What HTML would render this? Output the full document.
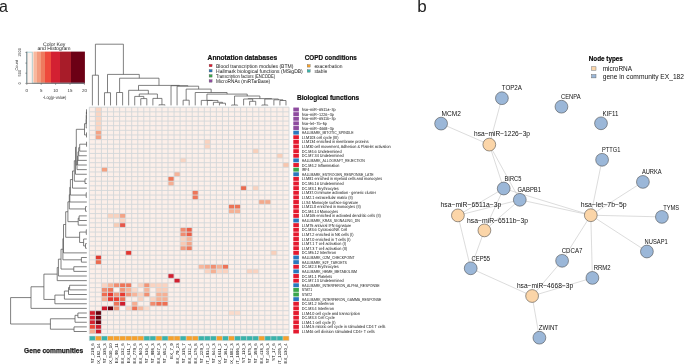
<!DOCTYPE html><html><head><meta charset="utf-8"><style>html,body{margin:0;padding:0;background:#fff;overflow:hidden}svg{display:block;will-change:transform}text{font-family:"Liberation Sans",sans-serif}.gp{text-rendering:geometricPrecision}</style></head><body>
<svg width="685" height="364" viewBox="0 0 685 364">
<rect width="685" height="364" fill="#fff"/>
<text x="-0.9" y="11.8" font-size="16" fill="#222">a</text>
<text x="417.2" y="11.8" font-size="17" fill="#222">b</text>
<rect x="89.35" y="107.2" width="199.65" height="226.625" fill="#fcefe9"/>
<rect x="95.40" y="107.20" width="6.05" height="4.625" fill="#fbd5c2"/>
<rect x="95.40" y="111.83" width="6.05" height="4.625" fill="#fbd5c2"/>
<rect x="95.40" y="116.45" width="6.05" height="4.625" fill="#fbd5c2"/>
<rect x="95.40" y="121.08" width="6.05" height="4.625" fill="#fbd5c2"/>
<rect x="95.40" y="125.70" width="6.05" height="4.625" fill="#fbd5c2"/>
<rect x="95.40" y="130.32" width="6.05" height="4.625" fill="#f4a385"/>
<rect x="95.40" y="134.95" width="6.05" height="4.625" fill="#f4a385"/>
<rect x="204.30" y="139.57" width="6.05" height="4.625" fill="#fad3c0"/>
<rect x="204.30" y="144.20" width="6.05" height="4.625" fill="#fad3c0"/>
<rect x="180.10" y="158.07" width="6.05" height="4.625" fill="#f9d5c3"/>
<rect x="252.70" y="148.82" width="6.05" height="4.625" fill="#f9d0bb"/>
<rect x="276.90" y="153.45" width="6.05" height="4.625" fill="#f9d0bb"/>
<rect x="282.95" y="162.70" width="6.05" height="4.625" fill="#f8c6ae"/>
<rect x="101.45" y="167.32" width="6.05" height="4.625" fill="#f4a080"/>
<rect x="174.05" y="171.95" width="6.05" height="4.625" fill="#f6b49a"/>
<rect x="168.00" y="176.57" width="6.05" height="4.625" fill="#ee7556"/>
<rect x="168.00" y="181.20" width="6.05" height="4.625" fill="#f5ad92"/>
<rect x="240.60" y="185.82" width="6.05" height="4.625" fill="#ea6a4e"/>
<rect x="252.70" y="185.82" width="6.05" height="4.625" fill="#f9d3c0"/>
<rect x="192.20" y="190.45" width="6.05" height="4.625" fill="#ed7659"/>
<rect x="192.20" y="195.07" width="6.05" height="4.625" fill="#ed7659"/>
<rect x="258.75" y="199.70" width="6.05" height="4.625" fill="#f4a98c"/>
<rect x="264.80" y="199.70" width="6.05" height="4.625" fill="#f4a98c"/>
<rect x="228.50" y="204.32" width="6.05" height="4.625" fill="#ec7356"/>
<rect x="234.55" y="204.32" width="6.05" height="4.625" fill="#ec7356"/>
<rect x="228.50" y="208.95" width="6.05" height="4.625" fill="#f5b296"/>
<rect x="234.55" y="208.95" width="6.05" height="4.625" fill="#f5b296"/>
<rect x="107.50" y="213.57" width="6.05" height="4.625" fill="#f9d3c0"/>
<rect x="113.55" y="213.57" width="6.05" height="4.625" fill="#f9d3c0"/>
<rect x="119.60" y="213.57" width="6.05" height="4.625" fill="#f4a385"/>
<rect x="119.60" y="218.20" width="6.05" height="4.625" fill="#fad4c2"/>
<rect x="113.55" y="222.82" width="6.05" height="4.625" fill="#f8ccb5"/>
<rect x="119.60" y="222.82" width="6.05" height="4.625" fill="#e7574a"/>
<rect x="180.10" y="227.45" width="6.05" height="4.625" fill="#f08b70"/>
<rect x="186.15" y="227.45" width="6.05" height="4.625" fill="#ec5f47"/>
<rect x="180.10" y="232.07" width="6.05" height="4.625" fill="#f08b70"/>
<rect x="186.15" y="232.07" width="6.05" height="4.625" fill="#eb5d45"/>
<rect x="180.10" y="236.70" width="6.05" height="4.625" fill="#fad3c0"/>
<rect x="186.15" y="236.70" width="6.05" height="4.625" fill="#f6b69c"/>
<rect x="180.10" y="241.32" width="6.05" height="4.625" fill="#f8c9b4"/>
<rect x="186.15" y="241.32" width="6.05" height="4.625" fill="#f4a588"/>
<rect x="180.10" y="245.95" width="6.05" height="4.625" fill="#f29c80"/>
<rect x="186.15" y="245.95" width="6.05" height="4.625" fill="#ee7a5e"/>
<rect x="125.65" y="250.57" width="6.05" height="4.625" fill="#e3352f"/>
<rect x="270.85" y="250.57" width="6.05" height="4.625" fill="#f9d0bb"/>
<rect x="95.40" y="255.20" width="6.05" height="4.625" fill="#e23a30"/>
<rect x="95.40" y="259.82" width="6.05" height="4.625" fill="#ec6c50"/>
<rect x="198.25" y="264.45" width="6.05" height="4.625" fill="#f7b89e"/>
<rect x="204.30" y="264.45" width="6.05" height="4.625" fill="#f5a98d"/>
<rect x="210.35" y="264.45" width="6.05" height="4.625" fill="#f18e70"/>
<rect x="216.40" y="264.45" width="6.05" height="4.625" fill="#f6b195"/>
<rect x="222.45" y="264.45" width="6.05" height="4.625" fill="#ee7357"/>
<rect x="204.30" y="269.07" width="6.05" height="4.625" fill="#fbd4c2"/>
<rect x="210.35" y="269.07" width="6.05" height="4.625" fill="#f6b092"/>
<rect x="216.40" y="269.07" width="6.05" height="4.625" fill="#fbd6c5"/>
<rect x="222.45" y="269.07" width="6.05" height="4.625" fill="#fbd3c0"/>
<rect x="246.65" y="269.07" width="6.05" height="4.625" fill="#fbd3c0"/>
<rect x="252.70" y="269.07" width="6.05" height="4.625" fill="#fbd3c0"/>
<rect x="168.00" y="273.70" width="6.05" height="4.625" fill="#d2202f"/>
<rect x="174.05" y="278.32" width="6.05" height="4.625" fill="#d2202f"/>
<rect x="101.45" y="282.95" width="6.05" height="4.625" fill="#fbd3c0"/>
<rect x="107.50" y="282.95" width="6.05" height="4.625" fill="#f7b59a"/>
<rect x="113.55" y="282.95" width="6.05" height="4.625" fill="#f18d70"/>
<rect x="119.60" y="282.95" width="6.05" height="4.625" fill="#ee7357"/>
<rect x="125.65" y="282.95" width="6.05" height="4.625" fill="#ef785b"/>
<rect x="137.75" y="282.95" width="6.05" height="4.625" fill="#fbd4c2"/>
<rect x="143.80" y="282.95" width="6.05" height="4.625" fill="#f29577"/>
<rect x="149.85" y="282.95" width="6.05" height="4.625" fill="#fbd3c0"/>
<rect x="155.90" y="282.95" width="6.05" height="4.625" fill="#fbd3c0"/>
<rect x="161.95" y="282.95" width="6.05" height="4.625" fill="#fbd3c0"/>
<rect x="101.45" y="287.57" width="6.05" height="4.625" fill="#f18d70"/>
<rect x="107.50" y="287.57" width="6.05" height="4.625" fill="#ee7659"/>
<rect x="113.55" y="287.57" width="6.05" height="4.625" fill="#fff5f0"/>
<rect x="119.60" y="287.57" width="6.05" height="4.625" fill="#f29577"/>
<rect x="125.65" y="287.57" width="6.05" height="4.625" fill="#f7b59a"/>
<rect x="131.70" y="287.57" width="6.05" height="4.625" fill="#fcd9c8"/>
<rect x="143.80" y="287.57" width="6.05" height="4.625" fill="#f7b59a"/>
<rect x="155.90" y="287.57" width="6.05" height="4.625" fill="#fbcfba"/>
<rect x="161.95" y="287.57" width="6.05" height="4.625" fill="#fbcfba"/>
<rect x="101.45" y="292.20" width="6.05" height="4.625" fill="#ee6d50"/>
<rect x="107.50" y="292.20" width="6.05" height="4.625" fill="#e8392f"/>
<rect x="113.55" y="292.20" width="6.05" height="4.625" fill="#f29577"/>
<rect x="119.60" y="292.20" width="6.05" height="4.625" fill="#e8392f"/>
<rect x="125.65" y="292.20" width="6.05" height="4.625" fill="#f29577"/>
<rect x="131.70" y="292.20" width="6.05" height="4.625" fill="#f7b59a"/>
<rect x="137.75" y="292.20" width="6.05" height="4.625" fill="#fbd3c0"/>
<rect x="143.80" y="292.20" width="6.05" height="4.625" fill="#f29072"/>
<rect x="155.90" y="292.20" width="6.05" height="4.625" fill="#f6b094"/>
<rect x="161.95" y="292.20" width="6.05" height="4.625" fill="#f6b094"/>
<rect x="101.45" y="296.82" width="6.05" height="4.625" fill="#f6b094"/>
<rect x="107.50" y="296.82" width="6.05" height="4.625" fill="#e8392f"/>
<rect x="113.55" y="296.82" width="6.05" height="4.625" fill="#ea3e30"/>
<rect x="119.60" y="296.82" width="6.05" height="4.625" fill="#ee7357"/>
<rect x="137.75" y="296.82" width="6.05" height="4.625" fill="#fbd3c0"/>
<rect x="149.85" y="296.82" width="6.05" height="4.625" fill="#fbd3c0"/>
<rect x="155.90" y="296.82" width="6.05" height="4.625" fill="#f6b498"/>
<rect x="161.95" y="296.82" width="6.05" height="4.625" fill="#f6b094"/>
<rect x="113.55" y="301.45" width="6.05" height="4.625" fill="#ee7357"/>
<rect x="119.60" y="301.45" width="6.05" height="4.625" fill="#d01d2c"/>
<rect x="131.70" y="301.45" width="6.05" height="4.625" fill="#f6ae92"/>
<rect x="149.85" y="301.45" width="6.05" height="4.625" fill="#f18b6d"/>
<rect x="155.90" y="301.45" width="6.05" height="4.625" fill="#ef6f52"/>
<rect x="161.95" y="301.45" width="6.05" height="4.625" fill="#ef6f52"/>
<rect x="101.45" y="306.07" width="6.05" height="4.625" fill="#cf1a2b"/>
<rect x="107.50" y="306.07" width="6.05" height="4.625" fill="#6b010e"/>
<rect x="113.55" y="306.07" width="6.05" height="4.625" fill="#f29577"/>
<rect x="119.60" y="306.07" width="6.05" height="4.625" fill="#fff5f0"/>
<rect x="125.65" y="306.07" width="6.05" height="4.625" fill="#fbd3c0"/>
<rect x="131.70" y="306.07" width="6.05" height="4.625" fill="#ef7254"/>
<rect x="137.75" y="306.07" width="6.05" height="4.625" fill="#f7baa0"/>
<rect x="143.80" y="306.07" width="6.05" height="4.625" fill="#fcdccc"/>
<rect x="89.35" y="310.70" width="6.05" height="4.625" fill="#d01d2c"/>
<rect x="95.40" y="310.70" width="6.05" height="4.625" fill="#67000d"/>
<rect x="228.50" y="310.70" width="6.05" height="4.625" fill="#fbdbcb"/>
<rect x="234.55" y="310.70" width="6.05" height="4.625" fill="#fbdbcb"/>
<rect x="89.35" y="315.32" width="6.05" height="4.625" fill="#d11b2d"/>
<rect x="95.40" y="315.32" width="6.05" height="4.625" fill="#6b000e"/>
<rect x="89.35" y="319.95" width="6.05" height="4.625" fill="#d2202f"/>
<rect x="95.40" y="319.95" width="6.05" height="4.625" fill="#6b000e"/>
<rect x="89.35" y="324.57" width="6.05" height="4.625" fill="#ee4232"/>
<rect x="95.40" y="324.57" width="6.05" height="4.625" fill="#d01d2c"/>
<rect x="89.35" y="329.20" width="6.05" height="4.625" fill="#f6ad90"/>
<rect x="95.40" y="329.20" width="6.05" height="4.625" fill="#d01d2c"/>
<path d="M89.35 107.2V333.82M95.40 107.2V333.82M101.45 107.2V333.82M107.50 107.2V333.82M113.55 107.2V333.82M119.60 107.2V333.82M125.65 107.2V333.82M131.70 107.2V333.82M137.75 107.2V333.82M143.80 107.2V333.82M149.85 107.2V333.82M155.90 107.2V333.82M161.95 107.2V333.82M168.00 107.2V333.82M174.05 107.2V333.82M180.10 107.2V333.82M186.15 107.2V333.82M192.20 107.2V333.82M198.25 107.2V333.82M204.30 107.2V333.82M210.35 107.2V333.82M216.40 107.2V333.82M222.45 107.2V333.82M228.50 107.2V333.82M234.55 107.2V333.82M240.60 107.2V333.82M246.65 107.2V333.82M252.70 107.2V333.82M258.75 107.2V333.82M264.80 107.2V333.82M270.85 107.2V333.82M276.90 107.2V333.82M282.95 107.2V333.82M289.00 107.2V333.82M89.35 107.20H289.00M89.35 111.83H289.00M89.35 116.45H289.00M89.35 121.08H289.00M89.35 125.70H289.00M89.35 130.32H289.00M89.35 134.95H289.00M89.35 139.57H289.00M89.35 144.20H289.00M89.35 148.82H289.00M89.35 153.45H289.00M89.35 158.07H289.00M89.35 162.70H289.00M89.35 167.32H289.00M89.35 171.95H289.00M89.35 176.57H289.00M89.35 181.20H289.00M89.35 185.82H289.00M89.35 190.45H289.00M89.35 195.07H289.00M89.35 199.70H289.00M89.35 204.32H289.00M89.35 208.95H289.00M89.35 213.57H289.00M89.35 218.20H289.00M89.35 222.82H289.00M89.35 227.45H289.00M89.35 232.07H289.00M89.35 236.70H289.00M89.35 241.32H289.00M89.35 245.95H289.00M89.35 250.57H289.00M89.35 255.20H289.00M89.35 259.82H289.00M89.35 264.45H289.00M89.35 269.07H289.00M89.35 273.70H289.00M89.35 278.32H289.00M89.35 282.95H289.00M89.35 287.57H289.00M89.35 292.20H289.00M89.35 296.82H289.00M89.35 301.45H289.00M89.35 306.07H289.00M89.35 310.70H289.00M89.35 315.32H289.00M89.35 319.95H289.00M89.35 324.57H289.00M89.35 329.20H289.00M89.35 333.82H289.00" stroke="#d3d7d9" stroke-width="0.9" fill="none"/>
<rect x="89.35" y="336.0" width="6.05" height="4.600000000000023" fill="#3ab3aa"/>
<rect x="95.40" y="336.0" width="6.05" height="4.600000000000023" fill="#f6a12c"/>
<rect x="101.45" y="336.0" width="6.05" height="4.600000000000023" fill="#3ab3aa"/>
<rect x="107.50" y="336.0" width="6.05" height="4.600000000000023" fill="#f6a12c"/>
<rect x="113.55" y="336.0" width="6.05" height="4.600000000000023" fill="#f6a12c"/>
<rect x="119.60" y="336.0" width="6.05" height="4.600000000000023" fill="#f6a12c"/>
<rect x="125.65" y="336.0" width="6.05" height="4.600000000000023" fill="#f6a12c"/>
<rect x="131.70" y="336.0" width="6.05" height="4.600000000000023" fill="#f6a12c"/>
<rect x="137.75" y="336.0" width="6.05" height="4.600000000000023" fill="#f6a12c"/>
<rect x="143.80" y="336.0" width="6.05" height="4.600000000000023" fill="#3ab3aa"/>
<rect x="149.85" y="336.0" width="6.05" height="4.600000000000023" fill="#3ab3aa"/>
<rect x="155.90" y="336.0" width="6.05" height="4.600000000000023" fill="#f6a12c"/>
<rect x="161.95" y="336.0" width="6.05" height="4.600000000000023" fill="#3ab3aa"/>
<rect x="168.00" y="336.0" width="6.05" height="4.600000000000023" fill="#f6a12c"/>
<rect x="174.05" y="336.0" width="6.05" height="4.600000000000023" fill="#f6a12c"/>
<rect x="180.10" y="336.0" width="6.05" height="4.600000000000023" fill="#3ab3aa"/>
<rect x="186.15" y="336.0" width="6.05" height="4.600000000000023" fill="#f6a12c"/>
<rect x="192.20" y="336.0" width="6.05" height="4.600000000000023" fill="#f6a12c"/>
<rect x="198.25" y="336.0" width="6.05" height="4.600000000000023" fill="#3ab3aa"/>
<rect x="204.30" y="336.0" width="6.05" height="4.600000000000023" fill="#3ab3aa"/>
<rect x="210.35" y="336.0" width="6.05" height="4.600000000000023" fill="#3ab3aa"/>
<rect x="216.40" y="336.0" width="6.05" height="4.600000000000023" fill="#f6a12c"/>
<rect x="222.45" y="336.0" width="6.05" height="4.600000000000023" fill="#3ab3aa"/>
<rect x="228.50" y="336.0" width="6.05" height="4.600000000000023" fill="#f6a12c"/>
<rect x="234.55" y="336.0" width="6.05" height="4.600000000000023" fill="#3ab3aa"/>
<rect x="240.60" y="336.0" width="6.05" height="4.600000000000023" fill="#3ab3aa"/>
<rect x="246.65" y="336.0" width="6.05" height="4.600000000000023" fill="#3ab3aa"/>
<rect x="252.70" y="336.0" width="6.05" height="4.600000000000023" fill="#3ab3aa"/>
<rect x="258.75" y="336.0" width="6.05" height="4.600000000000023" fill="#f6a12c"/>
<rect x="264.80" y="336.0" width="6.05" height="4.600000000000023" fill="#3ab3aa"/>
<rect x="270.85" y="336.0" width="6.05" height="4.600000000000023" fill="#3ab3aa"/>
<rect x="276.90" y="336.0" width="6.05" height="4.600000000000023" fill="#3ab3aa"/>
<rect x="282.95" y="336.0" width="6.05" height="4.600000000000023" fill="#f6a12c"/>
<path d="M89.35 336.0V340.6M95.40 336.0V340.6M101.45 336.0V340.6M107.50 336.0V340.6M113.55 336.0V340.6M119.60 336.0V340.6M125.65 336.0V340.6M131.70 336.0V340.6M137.75 336.0V340.6M143.80 336.0V340.6M149.85 336.0V340.6M155.90 336.0V340.6M161.95 336.0V340.6M168.00 336.0V340.6M174.05 336.0V340.6M180.10 336.0V340.6M186.15 336.0V340.6M192.20 336.0V340.6M198.25 336.0V340.6M204.30 336.0V340.6M210.35 336.0V340.6M216.40 336.0V340.6M222.45 336.0V340.6M228.50 336.0V340.6M234.55 336.0V340.6M240.60 336.0V340.6M246.65 336.0V340.6M252.70 336.0V340.6M258.75 336.0V340.6M264.80 336.0V340.6M270.85 336.0V340.6M276.90 336.0V340.6M282.95 336.0V340.6M289.00 336.0V340.6M89.35 336.0H289.00M89.35 340.6H289.00" stroke="#c9cfd0" stroke-width="0.6" fill="none"/>
<text transform="translate(93.88,343.4) rotate(-90)" class="gp" text-anchor="end" font-size="4.3" fill="#111">ST_219_6</text>
<text transform="translate(99.92,343.4) rotate(-90)" class="gp" text-anchor="end" font-size="4.3" fill="#111">EX_182_14</text>
<text transform="translate(105.97,343.4) rotate(-90)" class="gp" text-anchor="end" font-size="4.3" fill="#111">ST_335_3</text>
<text transform="translate(112.02,343.4) rotate(-90)" class="gp" text-anchor="end" font-size="4.3" fill="#111">EX_530_10</text>
<text transform="translate(118.07,343.4) rotate(-90)" class="gp" text-anchor="end" font-size="4.3" fill="#111">EX_99_11</text>
<text transform="translate(124.12,343.4) rotate(-90)" class="gp" text-anchor="end" font-size="4.3" fill="#111">EX_132_6</text>
<text transform="translate(130.17,343.4) rotate(-90)" class="gp" text-anchor="end" font-size="4.3" fill="#111">EX_611_7</text>
<text transform="translate(136.22,343.4) rotate(-90)" class="gp" text-anchor="end" font-size="4.3" fill="#111">EX_779_6</text>
<text transform="translate(142.27,343.4) rotate(-90)" class="gp" text-anchor="end" font-size="4.3" fill="#111">EX_940_3</text>
<text transform="translate(148.32,343.4) rotate(-90)" class="gp" text-anchor="end" font-size="4.3" fill="#111">ST_616_4</text>
<text transform="translate(154.38,343.4) rotate(-90)" class="gp" text-anchor="end" font-size="4.3" fill="#111">ST_998_3</text>
<text transform="translate(160.43,343.4) rotate(-90)" class="gp" text-anchor="end" font-size="4.3" fill="#111">EX_647_3</text>
<text transform="translate(166.47,343.4) rotate(-90)" class="gp" text-anchor="end" font-size="4.3" fill="#111">ST_652_3</text>
<text transform="translate(172.52,343.4) rotate(-90)" class="gp" text-anchor="end" font-size="4.3" fill="#111">EX_7_9</text>
<text transform="translate(178.57,343.4) rotate(-90)" class="gp" text-anchor="end" font-size="4.3" fill="#111">EX_79_23</text>
<text transform="translate(184.62,343.4) rotate(-90)" class="gp" text-anchor="end" font-size="4.3" fill="#111">ST_315_7</text>
<text transform="translate(190.68,343.4) rotate(-90)" class="gp" text-anchor="end" font-size="4.3" fill="#111">EX_312_4</text>
<text transform="translate(196.72,343.4) rotate(-90)" class="gp" text-anchor="end" font-size="4.3" fill="#111">EX_176_8</text>
<text transform="translate(202.77,343.4) rotate(-90)" class="gp" text-anchor="end" font-size="4.3" fill="#111">ST_229_3</text>
<text transform="translate(208.82,343.4) rotate(-90)" class="gp" text-anchor="end" font-size="4.3" fill="#111">ST_1914_2</text>
<text transform="translate(214.88,343.4) rotate(-90)" class="gp" text-anchor="end" font-size="4.3" fill="#111">ST_644_3</text>
<text transform="translate(220.92,343.4) rotate(-90)" class="gp" text-anchor="end" font-size="4.3" fill="#111">EX_1611_2</text>
<text transform="translate(226.97,343.4) rotate(-90)" class="gp" text-anchor="end" font-size="4.3" fill="#111">ST_361_4</text>
<text transform="translate(233.02,343.4) rotate(-90)" class="gp" text-anchor="end" font-size="4.3" fill="#111">EX_1882_3</text>
<text transform="translate(239.07,343.4) rotate(-90)" class="gp" text-anchor="end" font-size="4.3" fill="#111">ST_1896_3</text>
<text transform="translate(245.12,343.4) rotate(-90)" class="gp" text-anchor="end" font-size="4.3" fill="#111">ST_110_3</text>
<text transform="translate(251.17,343.4) rotate(-90)" class="gp" text-anchor="end" font-size="4.3" fill="#111">ST_875_3</text>
<text transform="translate(257.23,343.4) rotate(-90)" class="gp" text-anchor="end" font-size="4.3" fill="#111">ST_359_6</text>
<text transform="translate(263.27,343.4) rotate(-90)" class="gp" text-anchor="end" font-size="4.3" fill="#111">EX_418_3</text>
<text transform="translate(269.32,343.4) rotate(-90)" class="gp" text-anchor="end" font-size="4.3" fill="#111">ST_446_3</text>
<text transform="translate(275.38,343.4) rotate(-90)" class="gp" text-anchor="end" font-size="4.3" fill="#111">ST_17_6</text>
<text transform="translate(281.42,343.4) rotate(-90)" class="gp" text-anchor="end" font-size="4.3" fill="#111">ST_1205_3</text>
<text transform="translate(287.48,343.4) rotate(-90)" class="gp" text-anchor="end" font-size="4.3" fill="#111">EX_130_4</text>
<rect x="293.3" y="107.55" width="5.60" height="3.92" fill="#8e4b9f"/>
<rect x="293.3" y="112.17" width="5.60" height="3.92" fill="#8e4b9f"/>
<rect x="293.3" y="116.80" width="5.60" height="3.92" fill="#8e4b9f"/>
<rect x="293.3" y="121.42" width="5.60" height="3.92" fill="#8e4b9f"/>
<rect x="293.3" y="126.05" width="5.60" height="3.92" fill="#8e4b9f"/>
<rect x="293.3" y="130.67" width="5.60" height="3.92" fill="#2a78bd"/>
<rect x="293.3" y="135.30" width="5.60" height="3.92" fill="#e41a2f"/>
<rect x="293.3" y="139.92" width="5.60" height="3.92" fill="#e41a2f"/>
<rect x="293.3" y="144.55" width="5.60" height="3.92" fill="#e41a2f"/>
<rect x="293.3" y="149.17" width="5.60" height="3.92" fill="#e41a2f"/>
<rect x="293.3" y="153.80" width="5.60" height="3.92" fill="#e41a2f"/>
<rect x="293.3" y="158.42" width="5.60" height="3.92" fill="#2a78bd"/>
<rect x="293.3" y="163.05" width="5.60" height="3.92" fill="#e41a2f"/>
<rect x="293.3" y="167.67" width="5.60" height="3.92" fill="#3aa64b"/>
<rect x="293.3" y="172.30" width="5.60" height="3.92" fill="#2a78bd"/>
<rect x="293.3" y="176.92" width="5.60" height="3.92" fill="#e41a2f"/>
<rect x="293.3" y="181.55" width="5.60" height="3.92" fill="#e41a2f"/>
<rect x="293.3" y="186.17" width="5.60" height="3.92" fill="#e41a2f"/>
<rect x="293.3" y="190.80" width="5.60" height="3.92" fill="#e41a2f"/>
<rect x="293.3" y="195.42" width="5.60" height="3.92" fill="#e41a2f"/>
<rect x="293.3" y="200.05" width="5.60" height="3.92" fill="#e41a2f"/>
<rect x="293.3" y="204.67" width="5.60" height="3.92" fill="#e41a2f"/>
<rect x="293.3" y="209.30" width="5.60" height="3.92" fill="#e41a2f"/>
<rect x="293.3" y="213.92" width="5.60" height="3.92" fill="#e41a2f"/>
<rect x="293.3" y="218.55" width="5.60" height="3.92" fill="#2a78bd"/>
<rect x="293.3" y="223.17" width="5.60" height="3.92" fill="#e41a2f"/>
<rect x="293.3" y="227.80" width="5.60" height="3.92" fill="#e41a2f"/>
<rect x="293.3" y="232.42" width="5.60" height="3.92" fill="#e41a2f"/>
<rect x="293.3" y="237.05" width="5.60" height="3.92" fill="#e41a2f"/>
<rect x="293.3" y="241.67" width="5.60" height="3.92" fill="#e41a2f"/>
<rect x="293.3" y="246.30" width="5.60" height="3.92" fill="#e41a2f"/>
<rect x="293.3" y="250.92" width="5.60" height="3.92" fill="#e41a2f"/>
<rect x="293.3" y="255.55" width="5.60" height="3.92" fill="#2a78bd"/>
<rect x="293.3" y="260.18" width="5.60" height="3.92" fill="#2a78bd"/>
<rect x="293.3" y="264.80" width="5.60" height="3.92" fill="#e41a2f"/>
<rect x="293.3" y="269.43" width="5.60" height="3.92" fill="#2a78bd"/>
<rect x="293.3" y="274.05" width="5.60" height="3.92" fill="#e41a2f"/>
<rect x="293.3" y="278.68" width="5.60" height="3.92" fill="#e41a2f"/>
<rect x="293.3" y="283.30" width="5.60" height="3.92" fill="#2a78bd"/>
<rect x="293.3" y="287.93" width="5.60" height="3.92" fill="#3aa64b"/>
<rect x="293.3" y="292.55" width="5.60" height="3.92" fill="#3aa64b"/>
<rect x="293.3" y="297.18" width="5.60" height="3.92" fill="#2a78bd"/>
<rect x="293.3" y="301.80" width="5.60" height="3.92" fill="#e41a2f"/>
<rect x="293.3" y="306.43" width="5.60" height="3.92" fill="#e41a2f"/>
<rect x="293.3" y="311.05" width="5.60" height="3.92" fill="#e41a2f"/>
<rect x="293.3" y="315.68" width="5.60" height="3.92" fill="#e41a2f"/>
<rect x="293.3" y="320.30" width="5.60" height="3.92" fill="#e41a2f"/>
<rect x="293.3" y="324.93" width="5.60" height="3.92" fill="#e41a2f"/>
<rect x="293.3" y="329.55" width="5.60" height="3.92" fill="#e41a2f"/>
<text transform="translate(301.8,111.01) scale(0.87,1)" class="gp" font-size="4.35" fill="#111">hsa−miR−6511a−3p</text>
<text transform="translate(301.8,115.64) scale(0.87,1)" class="gp" font-size="4.35" fill="#111">hsa−miR−1226−3p</text>
<text transform="translate(301.8,120.26) scale(0.87,1)" class="gp" font-size="4.35" fill="#111">hsa−miR−6511b−3p</text>
<text transform="translate(301.8,124.89) scale(0.87,1)" class="gp" font-size="4.35" fill="#111">hsa−let−7b−5p</text>
<text transform="translate(301.8,129.51) scale(0.87,1)" class="gp" font-size="4.35" fill="#111">hsa−miR−4668−3p</text>
<text transform="translate(301.8,134.14) scale(0.8,1)" class="gp" font-size="4.35" fill="#111">HALLMARK_MITOTIC_SPINDLE</text>
<text transform="translate(301.8,138.76) scale(0.87,1)" class="gp" font-size="4.35" fill="#111">LI.M103 cell cycle (III)</text>
<text transform="translate(301.8,143.39) scale(0.87,1)" class="gp" font-size="4.35" fill="#111">LI.M134 enriched in membrane proteins</text>
<text transform="translate(301.8,148.01) scale(0.87,1)" class="gp" font-size="4.35" fill="#111">LI.M30 cell movement, Adhesion &amp; Platelet activation</text>
<text transform="translate(301.8,152.64) scale(0.87,1)" class="gp" font-size="4.35" fill="#111">DC.M4.6 Undetermined</text>
<text transform="translate(301.8,157.26) scale(0.87,1)" class="gp" font-size="4.35" fill="#111">DC.M7.34 Undetermined</text>
<text transform="translate(301.8,161.89) scale(0.8,1)" class="gp" font-size="4.35" fill="#111">HALLMARK_ALLOGRAFT_REJECTION</text>
<text transform="translate(301.8,166.51) scale(0.87,1)" class="gp" font-size="4.35" fill="#111">DC.M4.2 Inflammation</text>
<text transform="translate(301.8,171.14) scale(0.8,1)" class="gp" font-size="4.35" fill="#111">IRF4</text>
<text transform="translate(301.8,175.76) scale(0.8,1)" class="gp" font-size="4.35" fill="#111">HALLMARK_ESTROGEN_RESPONSE_LATE</text>
<text transform="translate(301.8,180.39) scale(0.87,1)" class="gp" font-size="4.35" fill="#111">LI.M81 enriched in myeloid cells and monocytes</text>
<text transform="translate(301.8,185.01) scale(0.87,1)" class="gp" font-size="4.35" fill="#111">DC.M6.16 Undetermined</text>
<text transform="translate(301.8,189.64) scale(0.87,1)" class="gp" font-size="4.35" fill="#111">DC.M3.1 Erythrocytes</text>
<text transform="translate(301.8,194.26) scale(0.87,1)" class="gp" font-size="4.35" fill="#111">LI.M37.0 immune activation - generic cluster</text>
<text transform="translate(301.8,198.89) scale(0.87,1)" class="gp" font-size="4.35" fill="#111">LI.M2.1 extracellular matrix (II)</text>
<text transform="translate(301.8,203.51) scale(0.87,1)" class="gp" font-size="4.35" fill="#111">LI.S4 Monocyte surface signature</text>
<text transform="translate(301.8,208.14) scale(0.87,1)" class="gp" font-size="4.35" fill="#111">LI.M11.0 enriched in monocytes (II)</text>
<text transform="translate(301.8,212.76) scale(0.87,1)" class="gp" font-size="4.35" fill="#111">DC.M4.14 Monocytes</text>
<text transform="translate(301.8,217.39) scale(0.87,1)" class="gp" font-size="4.35" fill="#111">LI.M165 enriched in activated dendritic cells (II)</text>
<text transform="translate(301.8,222.01) scale(0.8,1)" class="gp" font-size="4.35" fill="#111">HALLMARK_KRAS_SIGNALING_DN</text>
<text transform="translate(301.8,226.64) scale(0.87,1)" class="gp" font-size="4.35" fill="#111">LI.M75 antiviral IFN signature</text>
<text transform="translate(301.8,231.26) scale(0.87,1)" class="gp" font-size="4.35" fill="#111">DC.M3.6 Cytotoxic/NK Cell</text>
<text transform="translate(301.8,235.89) scale(0.87,1)" class="gp" font-size="4.35" fill="#111">LI.M7.2 enriched in NK cells (I)</text>
<text transform="translate(301.8,240.51) scale(0.87,1)" class="gp" font-size="4.35" fill="#111">LI.M7.0 enriched in T cells (I)</text>
<text transform="translate(301.8,245.14) scale(0.87,1)" class="gp" font-size="4.35" fill="#111">LI.M7.1 T cell activation (I)</text>
<text transform="translate(301.8,249.76) scale(0.87,1)" class="gp" font-size="4.35" fill="#111">LI.M7.3 T cell activation (II)</text>
<text transform="translate(301.8,254.39) scale(0.87,1)" class="gp" font-size="4.35" fill="#111">DC.M5.12 Interferon</text>
<text transform="translate(301.8,259.01) scale(0.8,1)" class="gp" font-size="4.35" fill="#111">HALLMARK_G2M_CHECKPOINT</text>
<text transform="translate(301.8,263.64) scale(0.8,1)" class="gp" font-size="4.35" fill="#111">HALLMARK_E2F_TARGETS</text>
<text transform="translate(301.8,268.26) scale(0.87,1)" class="gp" font-size="4.35" fill="#111">DC.M2.3 Erythrocytes</text>
<text transform="translate(301.8,272.89) scale(0.8,1)" class="gp" font-size="4.35" fill="#111">HALLMARK_HEME_METABOLISM</text>
<text transform="translate(301.8,277.51) scale(0.87,1)" class="gp" font-size="4.35" fill="#111">DC.M1.1 Platelets</text>
<text transform="translate(301.8,282.14) scale(0.87,1)" class="gp" font-size="4.35" fill="#111">DC.M7.13 Undetermined</text>
<text transform="translate(301.8,286.76) scale(0.8,1)" class="gp" font-size="4.35" fill="#111">HALLMARK_INTERFERON_ALPHA_RESPONSE</text>
<text transform="translate(301.8,291.39) scale(0.8,1)" class="gp" font-size="4.35" fill="#111">STAT1</text>
<text transform="translate(301.8,296.01) scale(0.8,1)" class="gp" font-size="4.35" fill="#111">STAT2</text>
<text transform="translate(301.8,300.64) scale(0.8,1)" class="gp" font-size="4.35" fill="#111">HALLMARK_INTERFERON_GAMMA_RESPONSE</text>
<text transform="translate(301.8,305.26) scale(0.87,1)" class="gp" font-size="4.35" fill="#111">DC.M1.2 Interferon</text>
<text transform="translate(301.8,309.89) scale(0.87,1)" class="gp" font-size="4.35" fill="#111">DC.M3.4 Interferon</text>
<text transform="translate(301.8,314.51) scale(0.87,1)" class="gp" font-size="4.35" fill="#111">LI.M4.0 cell cycle and transcription</text>
<text transform="translate(301.8,319.14) scale(0.87,1)" class="gp" font-size="4.35" fill="#111">DC.M3.3 Cell Cycle</text>
<text transform="translate(301.8,323.76) scale(0.87,1)" class="gp" font-size="4.35" fill="#111">LI.M4.1 cell cycle (I)</text>
<text transform="translate(301.8,328.39) scale(0.87,1)" class="gp" font-size="4.35" fill="#111">LI.M4.5 mitotic cell cycle in stimulated CD4 T cells</text>
<text transform="translate(301.8,333.01) scale(0.87,1)" class="gp" font-size="4.35" fill="#111">LI.M46 cell division stimulated CD4+ T cells</text>
<path d="M92.38 105.40V75.20H98.42V105.40M104.47 105.40V92.70H110.52V105.40M116.57 105.40V92.50H122.62V105.40M140.77 105.40V98.60H146.82V105.40M134.72 105.40V96.40H143.80V98.60M158.93 105.40V104.80H164.97V105.40M152.88 105.40V98.40H161.95V104.80M139.26 96.40V94.00H157.41V98.40M128.67 105.40V90.30H148.34V94.00M183.12 105.40V100.20H189.18V105.40M219.42 105.40V103.20H225.47V105.40M213.38 105.40V102.30H222.45V103.20M207.32 105.40V100.45H217.91V102.30M201.27 105.40V100.40H212.62V100.45M231.52 105.40V105.00H237.57V105.40M249.67 105.40V101.30H255.72V105.40M243.62 105.40V99.00H252.70V101.30M261.77 105.40V105.00H267.82V105.40M279.92 105.40V100.50H285.98V105.40M273.88 105.40V99.80H282.95V100.50M264.80 105.00V99.00H278.41V99.80M248.16 99.00V98.60H271.61V99.00M234.55 105.00V96.00H259.88V98.60M206.95 100.40V94.10H247.22V96.00M195.22 105.40V92.50H227.08V94.10M186.15 100.20V89.10H211.15V92.50M177.07 105.40V86.20H198.65V89.10M171.02 105.40V85.70H187.86V86.20M138.51 90.30V85.40H179.44V85.70M119.60 92.50V78.20H158.98V85.40M107.50 92.70V74.40H139.29V78.20M95.40 75.20V44.20H123.39V74.40" stroke="#555" stroke-width="0.75" fill="none"/>
<path d="M86.80 109.51H86.50V114.14H86.80M86.50 111.83H86.40V118.76H86.80M86.40 115.29H86.30V123.39H86.80M86.30 119.34H86.20V128.01H86.80M86.80 132.64H86.50V137.26H86.80M86.20 123.68H84.50V134.95H86.50M86.80 141.89H86.55V146.51H86.80M86.55 144.20H79.70V151.14H86.80M79.70 147.67H78.70V155.76H86.80M78.70 151.72H78.00V160.39H86.80M78.00 156.05H77.60V165.01H86.80M77.60 160.53H77.00V169.64H86.80M84.50 129.31H76.30V165.08H77.00M76.30 147.20H75.50V174.26H86.80M86.80 178.89H85.00V183.51H86.80M75.50 160.73H74.30V181.20H85.00M74.30 170.97H72.50V188.14H86.80M86.80 192.76H86.20V197.39H86.80M72.50 179.55H70.40V195.07H86.20M70.40 187.31H69.80V202.01H86.80M86.80 206.64H85.50V211.26H86.80M69.80 194.66H69.30V208.95H85.50M86.80 215.89H79.10V220.51H86.80M79.10 218.20H78.20V225.14H86.80M69.30 201.81H67.90V221.67H78.20M86.80 229.76H86.25V234.39H86.80M86.80 243.64H85.50V248.26H86.80M86.80 239.01H83.60V245.95H85.50M86.25 232.07H79.60V242.48H83.60M67.90 211.74H65.70V237.28H79.60M65.70 224.51H63.50V252.89H86.80M86.80 257.51H81.40V262.14H86.80M63.50 238.70H62.90V259.82H81.40M86.80 266.76H73.80V271.39H86.80M62.90 249.26H61.00V269.07H73.80M61.00 259.17H58.40V276.01H86.80M58.40 267.59H57.20V280.64H86.80M86.80 285.26H69.60V289.89H86.80M69.60 287.57H68.50V294.51H86.80M68.50 291.04H64.40V299.14H86.80M64.40 295.09H54.90V303.76H86.80M57.20 274.11H43.90V299.43H54.90M43.90 286.77H31.00V308.39H86.80M86.80 313.01H77.90V317.64H86.80M77.90 315.32H75.00V322.26H86.80M86.80 326.89H74.00V331.51H86.80M75.00 318.79H50.40V329.20H74.00M31.00 297.58H10.60V324.00H50.40" stroke="#555" stroke-width="0.75" fill="none"/>
<defs><linearGradient id="kg" x1="0" x2="1" y1="0" y2="0"><stop offset="0.0000" stop-color="#fef3ee"/><stop offset="0.0975" stop-color="#fef3ee"/><stop offset="0.0975" stop-color="#fcd5c3"/><stop offset="0.1300" stop-color="#fcd5c3"/><stop offset="0.1300" stop-color="#f8b89e"/><stop offset="0.1750" stop-color="#f8b89e"/><stop offset="0.1750" stop-color="#f39b7e"/><stop offset="0.2500" stop-color="#f39b7e"/><stop offset="0.2500" stop-color="#ee7a5e"/><stop offset="0.3100" stop-color="#ee7a5e"/><stop offset="0.3100" stop-color="#ee4a3c"/><stop offset="0.4250" stop-color="#ee4a3c"/><stop offset="0.4250" stop-color="#d32032"/><stop offset="0.5650" stop-color="#d32032"/><stop offset="0.5650" stop-color="#a81c29"/><stop offset="0.7550" stop-color="#a81c29"/><stop offset="0.7550" stop-color="#6c0015"/><stop offset="1.0000" stop-color="#6c0015"/></linearGradient></defs>
<rect x="26.80" y="51.6" width="58.10" height="31.80" fill="url(#kg)"/>
<path d="M26.80 83.10V52.20H32.27V83.10H84.40" stroke="#8fd0dc" stroke-width="0.7" fill="none"/>
<path d="M26.8 51.6V83.4H84.4" stroke="#444" stroke-width="0.6" fill="none"/>
<path d="M26.80 83.4v1.5M41.20 83.4v1.5M55.60 83.4v1.5M70.00 83.4v1.5M84.40 83.4v1.5M26.8 83.4h-1.5M26.8 73.2h-1.5M26.8 63.1h-1.5M26.8 52.4h-1.5" stroke="#444" stroke-width="0.5" fill="none"/>
<text x="26.80" y="91.9" class="gp" font-size="4.4" text-anchor="middle" fill="#333">0</text>
<text x="41.20" y="91.9" class="gp" font-size="4.4" text-anchor="middle" fill="#333">5</text>
<text x="55.60" y="91.9" class="gp" font-size="4.4" text-anchor="middle" fill="#333">10</text>
<text x="70.00" y="91.9" class="gp" font-size="4.4" text-anchor="middle" fill="#333">15</text>
<text x="84.40" y="91.9" class="gp" font-size="4.4" text-anchor="middle" fill="#333">20</text>
<text x="42.9" y="98.9" class="gp" font-size="4.6" fill="#333" textLength="23.5" lengthAdjust="spacingAndGlyphs">-Log(p-value)</text>
<text transform="translate(21.2,83.4) rotate(-90)" class="gp" font-size="4.0" text-anchor="middle" fill="#333">0</text>
<text transform="translate(21.2,73.2) rotate(-90)" class="gp" font-size="4.0" text-anchor="middle" fill="#333">500</text>
<text transform="translate(21.2,52.4) rotate(-90)" class="gp" font-size="4.0" text-anchor="middle" fill="#333">1500</text>
<text transform="translate(18.3,65.2) rotate(-90)" class="gp" font-size="4.0" text-anchor="middle" fill="#333">Count</text>
<text x="54.2" y="45.8" class="gp" font-size="5.1" text-anchor="middle" fill="#222">Color Key</text>
<text x="54.0" y="49.6" class="gp" font-size="5.1" text-anchor="middle" fill="#222">and Histogram</text>
<text x="207.6" y="59.9" font-size="7" font-weight="bold" fill="#111" stroke="#111" stroke-width="0.22" textLength="69.5" lengthAdjust="spacingAndGlyphs">Annotation databases</text>
<rect x="209.1" y="64.30" width="3.0" height="2.5" fill="#e41a2f" stroke="#555" stroke-width="0.3"/>
<text x="216.0" y="67.70" class="gp" font-size="5.3" fill="#111" textLength="77.4" lengthAdjust="spacingAndGlyphs">Blood transcription modules (BTM)</text>
<rect x="209.1" y="69.50" width="3.0" height="2.5" fill="#2a78bd" stroke="#555" stroke-width="0.3"/>
<text x="216.0" y="72.90" class="gp" font-size="5.3" fill="#111" textLength="86.8" lengthAdjust="spacingAndGlyphs">Hallmark biological functions (MSigDB)</text>
<rect x="209.1" y="74.60" width="3.0" height="2.5" fill="#3aa64b" stroke="#555" stroke-width="0.3"/>
<text x="216.0" y="78.00" class="gp" font-size="5.3" fill="#111" textLength="59.2" lengthAdjust="spacingAndGlyphs">Transcription factors (ENCODE)</text>
<rect x="209.1" y="79.70" width="3.0" height="2.5" fill="#8e4b9f" stroke="#555" stroke-width="0.3"/>
<text x="216.0" y="83.10" class="gp" font-size="5.3" fill="#111" textLength="54.1" lengthAdjust="spacingAndGlyphs">MicroRNAs (miRTarBase)</text>
<text x="304.7" y="59.9" font-size="7" font-weight="bold" fill="#111" stroke="#111" stroke-width="0.22" textLength="52.1" lengthAdjust="spacingAndGlyphs">COPD conditions</text>
<rect x="307.2" y="64.6" width="3.0" height="2.5" fill="#f6a12c" stroke="#555" stroke-width="0.3"/>
<rect x="307.2" y="69.7" width="3.0" height="2.5" fill="#3ab3aa" stroke="#555" stroke-width="0.3"/>
<text x="314.4" y="67.5" class="gp" font-size="5.3" fill="#222" textLength="28.1" lengthAdjust="spacingAndGlyphs">exacerbation</text>
<text x="314.4" y="72.6" class="gp" font-size="5.3" fill="#222" textLength="12.8" lengthAdjust="spacingAndGlyphs">stable</text>
<text x="297.0" y="100.0" font-size="7" font-weight="bold" fill="#111" stroke="#111" stroke-width="0.22" textLength="62.2" lengthAdjust="spacingAndGlyphs">Biological functions</text>
<text x="24.1" y="352.6" font-size="6.6" font-weight="bold" fill="#1a1a1a" stroke="#1a1a1a" stroke-width="0.25" textLength="59" lengthAdjust="spacingAndGlyphs">Gene communities</text>
<path d="M441.1 123.6L489.3 144.6M501.9 98.2L489.3 144.6M489.3 144.6L503.7 188.5M489.3 144.6L519.8 199.8M602.1 159.8L590.8 215.2M642.9 181.9L590.8 215.2M661.9 216.9L590.8 215.2M646.9 251.5L590.8 215.2M562.1 260.8L590.8 215.2M592.4 277.9L590.8 215.2M503.7 188.5L590.8 215.2M519.8 199.8L590.8 215.2M503.7 188.5L457.9 215.4M519.8 199.8L457.9 215.4M503.7 188.5L484.4 230.4M519.8 199.8L484.4 230.4M457.9 215.4L470.7 268.3M484.4 230.4L470.7 268.3M470.7 268.3L532.1 296M562.1 260.8L532.1 296M592.4 277.9L532.1 296M539.4 337.7L532.1 296" stroke="#c4c4c4" stroke-width="0.6" fill="none"/>
<circle cx="501.9" cy="98.2" r="6.4" fill="#9bb7d8" stroke="#444" stroke-width="0.55"/>
<circle cx="441.1" cy="123.6" r="6.4" fill="#9bb7d8" stroke="#444" stroke-width="0.55"/>
<circle cx="489.3" cy="144.6" r="6.4" fill="#fbd5a8" stroke="#444" stroke-width="0.55"/>
<circle cx="561.45" cy="106.7" r="6.4" fill="#9bb7d8" stroke="#444" stroke-width="0.55"/>
<circle cx="601" cy="123.3" r="6.4" fill="#9bb7d8" stroke="#444" stroke-width="0.55"/>
<circle cx="602.1" cy="159.8" r="6.4" fill="#9bb7d8" stroke="#444" stroke-width="0.55"/>
<circle cx="642.9" cy="181.9" r="6.4" fill="#9bb7d8" stroke="#444" stroke-width="0.55"/>
<circle cx="503.7" cy="188.5" r="6.4" fill="#9bb7d8" stroke="#444" stroke-width="0.55"/>
<circle cx="519.8" cy="199.8" r="6.4" fill="#9bb7d8" stroke="#444" stroke-width="0.55"/>
<circle cx="457.9" cy="215.4" r="6.4" fill="#fbd5a8" stroke="#444" stroke-width="0.55"/>
<circle cx="484.4" cy="230.4" r="6.4" fill="#fbd5a8" stroke="#444" stroke-width="0.55"/>
<circle cx="590.8" cy="215.2" r="6.4" fill="#fbd5a8" stroke="#444" stroke-width="0.55"/>
<circle cx="661.9" cy="216.9" r="6.4" fill="#9bb7d8" stroke="#444" stroke-width="0.55"/>
<circle cx="646.9" cy="251.5" r="6.4" fill="#9bb7d8" stroke="#444" stroke-width="0.55"/>
<circle cx="562.1" cy="260.8" r="6.4" fill="#9bb7d8" stroke="#444" stroke-width="0.55"/>
<circle cx="592.4" cy="277.9" r="6.4" fill="#9bb7d8" stroke="#444" stroke-width="0.55"/>
<circle cx="470.7" cy="268.3" r="6.4" fill="#9bb7d8" stroke="#444" stroke-width="0.55"/>
<circle cx="532.1" cy="296" r="6.4" fill="#fbd5a8" stroke="#444" stroke-width="0.55"/>
<circle cx="539.4" cy="337.7" r="6.4" fill="#9bb7d8" stroke="#444" stroke-width="0.55"/>
<text x="501.7" y="90.4" font-size="6.8" fill="#111" textLength="20.3" lengthAdjust="spacingAndGlyphs">TOP2A</text>
<text x="441.6" y="116.0" font-size="6.8" fill="#111" textLength="19.3" lengthAdjust="spacingAndGlyphs">MCM2</text>
<text x="474" y="136.1" font-size="6.8" fill="#111" textLength="56.0" lengthAdjust="spacingAndGlyphs">hsa−miR−1226−3p</text>
<text x="561" y="98.6" font-size="6.8" fill="#111" textLength="19.6" lengthAdjust="spacingAndGlyphs">CENPA</text>
<text x="602.5" y="115.6" font-size="6.8" fill="#111" textLength="16.0" lengthAdjust="spacingAndGlyphs">KIF11</text>
<text x="602" y="151.9" font-size="6.8" fill="#111" textLength="18.4" lengthAdjust="spacingAndGlyphs">PTTG1</text>
<text x="641.9" y="173.6" font-size="6.8" fill="#111" textLength="19.8" lengthAdjust="spacingAndGlyphs">AURKA</text>
<text x="504.6" y="180.8" font-size="6.8" fill="#111" textLength="16.7" lengthAdjust="spacingAndGlyphs">BIRC5</text>
<text x="517.5" y="192.3" font-size="6.8" fill="#111" textLength="23.5" lengthAdjust="spacingAndGlyphs">GABPB1</text>
<text x="440.6" y="207.1" font-size="6.8" fill="#111" textLength="60.6" lengthAdjust="spacingAndGlyphs">hsa−miR−6511a−3p</text>
<text x="467" y="222.7" font-size="6.8" fill="#111" textLength="61.0" lengthAdjust="spacingAndGlyphs">hsa−miR−6511b−3p</text>
<text x="580.8" y="206.8" font-size="6.8" fill="#111" textLength="45.9" lengthAdjust="spacingAndGlyphs">hsa−let−7b−5p</text>
<text x="663.3" y="209.6" font-size="6.8" fill="#111" textLength="15.9" lengthAdjust="spacingAndGlyphs">TYMS</text>
<text x="644.6" y="244.2" font-size="6.8" fill="#111" textLength="23.1" lengthAdjust="spacingAndGlyphs">NUSAP1</text>
<text x="561.7" y="253" font-size="6.8" fill="#111" textLength="20.8" lengthAdjust="spacingAndGlyphs">CDCA7</text>
<text x="593.7" y="270" font-size="6.8" fill="#111" textLength="16.9" lengthAdjust="spacingAndGlyphs">RRM2</text>
<text x="471.5" y="260.8" font-size="6.8" fill="#111" textLength="18.6" lengthAdjust="spacingAndGlyphs">CEP55</text>
<text x="516.9" y="287.6" font-size="6.8" fill="#111" textLength="56.2" lengthAdjust="spacingAndGlyphs">hsa−miR−4668−3p</text>
<text x="538.8" y="330" font-size="6.8" fill="#111" textLength="19.2" lengthAdjust="spacingAndGlyphs">ZWINT</text>
<text x="588.7" y="60.8" font-size="6.4" font-weight="bold" fill="#000" stroke="#000" stroke-width="0.15" textLength="34.2" lengthAdjust="spacingAndGlyphs">Node types</text>
<rect x="591.6" y="66.8" width="4.4" height="3.4" fill="#fbd5a8" stroke="#555" stroke-width="0.4"/>
<rect x="591.6" y="74.6" width="4.4" height="3.3" fill="#9bb7d8" stroke="#555" stroke-width="0.4"/>
<text x="602.7" y="70.7" font-size="6.6" fill="#111" textLength="29.4" lengthAdjust="spacingAndGlyphs">microRNA</text>
<text x="602.7" y="78.6" font-size="6.6" fill="#111" textLength="81.3" lengthAdjust="spacingAndGlyphs">gene in community EX_182</text>
</svg></body></html>
